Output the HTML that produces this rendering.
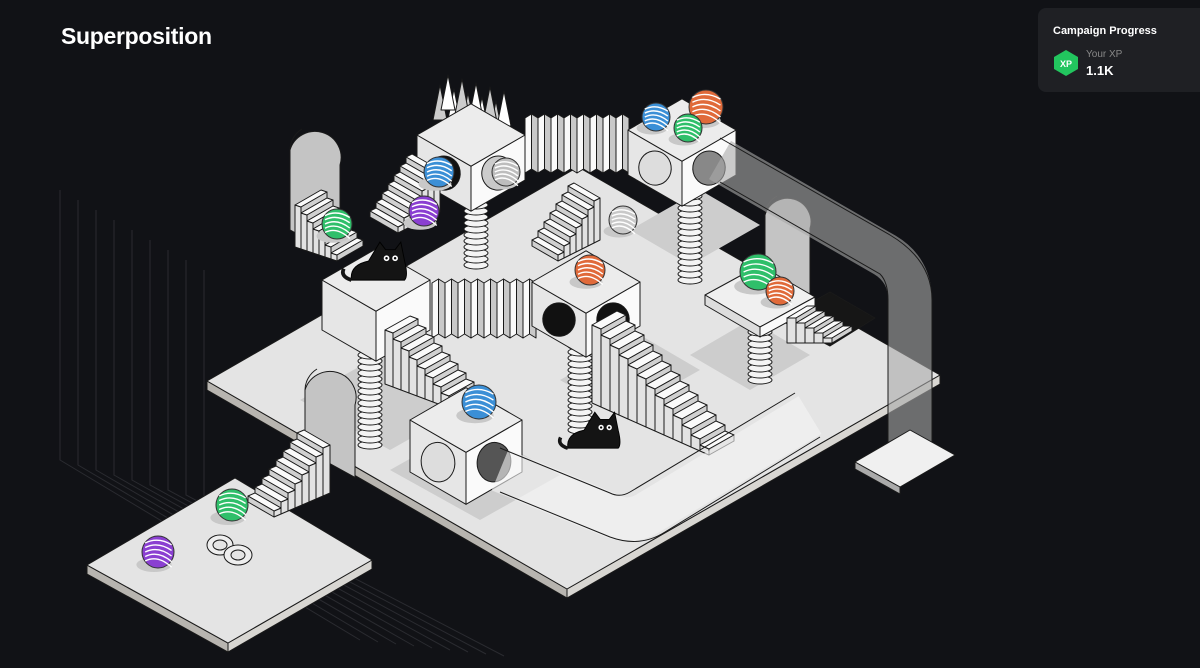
<!DOCTYPE html>
<html><head><meta charset="utf-8"><style>
html,body{margin:0;padding:0;background:#111216;width:1200px;height:668px;overflow:hidden;font-family:"Liberation Sans",sans-serif}
#t{position:absolute;left:61px;top:23px;color:#fff;font-size:23px;font-weight:bold;letter-spacing:-0.3px}
#card{position:absolute;left:1038px;top:8px;width:170px;height:84px;background:#1f2024;border-radius:8px}
#card .h{position:absolute;left:15px;top:17px;color:#fff;font-size:11px;font-weight:bold}
#card .y{position:absolute;left:48px;top:41px;color:#888;font-size:10px}
#card .v{position:absolute;left:48px;top:55px;color:#fff;font-size:13px;font-weight:bold}
svg{position:absolute;left:0;top:0}
</style></head><body>
<svg id="s" width="1200" height="668" viewBox="0 0 1200 668"></svg>
<div id="t">Superposition</div>
<div id="card"><div class="h">Campaign Progress</div>
<svg width="26" height="28" style="left:15px;top:41px" viewBox="0 0 26 28"><polygon points="13,1 25,8 25,20 13,27 1,20 1,8" fill="#22c55e"/><text x="13" y="18" fill="#fff" font-size="9" font-weight="bold" text-anchor="middle" font-family="Liberation Sans">XP</text></svg>
<div class="y">Your XP</div><div class="v">1.1K</div></div>
<script>
const s=document.getElementById('s');let o='';
const K='#1a1a1a';
function P(p,f,st){o+=`<polygon points="${p.map(a=>a.join(',')).join(' ')}" fill="${f}" stroke="${st||K}" stroke-width="1" stroke-linejoin="round"/>`;}
function E(x,y,rx,ry,f,st,rot){o+=`<ellipse cx="${x}" cy="${y}" rx="${rx}" ry="${ry}" fill="${f}" stroke="${st||K}" stroke-width="1" ${rot?`transform="rotate(${rot} ${x} ${y})"`:''}/>`;}
for(let i=0;i<9;i++){let x=60+i*18,y=190+i*10;o+=`<polyline points="${x},${y} ${x},${460+i*5} ${x+300},${640+i*2}" fill="none" stroke="#2a2b30" stroke-width="1"/>`;}
function plat(l,t,r,b,th,top,side){P([l,[l[0],l[1]+th],[b[0],b[1]+th],b],side);P([b,[b[0],b[1]+th],[r[0],r[1]+th],r],'#d8d6d2');P([l,t,r,b],top);}
plat([207,381],[578,167],[940,375],[567,589],9,'#e4e4e4','#b8b5b0');
P([[780,320],[830,292],[875,318],[830,346]],'#161616');
o+=`<polygon points="300,400 380,355 470,405 390,450" fill="#cdcdcd"/><polygon points="560,380 640,335 700,370 620,415" fill="#cdcdcd"/><polygon points="690,355 750,320 810,355 750,390" fill="#cdcdcd"/><polygon points="630,230 700,190 760,225 690,265" fill="#cdcdcd"/><polygon points="390,470 470,425 560,475 480,520" fill="#cdcdcd"/>`;
plat([87,565],[235,478],[372,560],[228,643],9,'#e4e4e4','#b8b5b0');
function cube(cx,cy,w,H,holes){let h=w*0.577;let T=[cx,cy-h],R=[cx+w,cy],B=[cx,cy+h],Lf=[cx-w,cy];
P([Lf,B,[B[0],B[1]+H],[Lf[0],Lf[1]+H]],'#e6e6e6');P([B,R,[R[0],R[1]+H],[B[0],B[1]+H]],'#fafafa');P([T,R,B,Lf],'#ececec');
if(holes){E(cx-w/2,cy+h/2+H/2,w*0.3,H*0.38,holes[0]||'#ddd',K,-8);E(cx+w/2,cy+h/2+H/2,w*0.3,H*0.38,holes[1]||'#111',K,8);}}
function spring(x,y1,y2,r){for(let y=y2;y>=y1;y-=6)E(x,y,r,4,'#f4f4f4');}
function stairs(x,y,n,dx,dy,wx,wy,rh){let rx=dx,ry=dy-rh;
for(let i=0;i<n;i++){let a=[x+i*dx,y+i*dy];let b=[a[0]+wx,a[1]+wy];let c=[b[0]+rx,b[1]+ry],d=[a[0]+rx,a[1]+ry];
let D=(n-i)*rh;
P([a,d,[d[0],d[1]+D],[a[0],a[1]+D]],'#e2e2e2');
P([a,b,c,d],'#fafafa');P([d,c,[c[0],c[1]+rh],[d[0],d[1]+rh]],'#d0d0d0');}}
function arch(x,y,w,hh,d){o+=`<path d="M${x} ${y+hh} L${x} ${y} A${w/2} ${w/2} 0 0 1 ${x+w} ${y+w*0.3} L${x+w} ${y+hh+w*0.55} Z" fill="#c4c4c4" stroke="${K}"/>`;o+=`<path d="M${x} ${y+hh} L${x} ${y} A${w/2} ${w/2} 0 0 1 ${x+12} ${y-w*0.42}" fill="none" stroke="${K}"/>`;}
function acc(x,y,n,w,H,sl){for(let i=0;i<n;i++){let a=x+i*w;P([[a,y],[a+w/2,y-4],[a+w/2,y-4+H],[a,y+H]],'#fafafa');P([[a+w/2,y-4],[a+w,y],[a+w,y+H],[a+w/2,y-4+H]],'#c9c9c9');}}
function ball(x,y,r,c){E(x-4,y+r*0.8,r*1.1,r*0.45,'#c8c8c8','none');o+=`<g><circle cx="${x}" cy="${y}" r="${r}" fill="${c}" stroke="#333"/>`;for(let k=-2;k<=2;k++)o+=`<path d="M${x-r*0.8} ${y+k*r*0.28} Q${x} ${y-r*0.4+k*r*0.28} ${x+r*0.85} ${y+k*r*0.35+4}" fill="none" stroke="#fff" stroke-width="1.4"/>`;o+='</g>';}
function cat(x,y,sc){o+=`<g transform="translate(${x} ${y}) scale(${sc})"><path d="M-28 18 Q-30 2 -10 -2 L2 -22 L8 -14 L18 -14 L24 -22 L28 -2 Q32 14 28 18 Z" fill="#141414" stroke="#000"/><path d="M-28 18 Q-40 14 -36 6" fill="none" stroke="#141414" stroke-width="4"/><circle cx="9" cy="-5" r="3" fill="#fff"/><circle cx="18" cy="-5" r="3" fill="#fff"/><circle cx="9" cy="-5" r="1.3"/><circle cx="18" cy="-5" r="1.3"/></g>`;}
arch(290,150,50,80,0);
stairs(295,205,7,6,8,26,-15,6);
spring(690,195,280,12);
spring(476,190,265,12);
stairs(600,198,7,-6,9,-26,-15,6);
acc(525,118,8,13,55,0);
cube(682,130,54,45,['#ddd','#888']);
for(let i=0;i<10;i++){let sx=440+(i%5)*14+(i>4?8:0),sy=120-(i>4?10:0)+(i%5)*4;P([[sx-7,sy],[sx,sy-35],[sx+7,sy]],i%2?'#fff':'#ccc');}
cube(471,135,54,45,['#111','#ccc']);
stairs(440,170,7,-6,9,-28,-16,6);
spring(370,350,445,12);
spring(580,340,430,12);
arch(765,215,45,65,0);
spring(760,320,380,12);
P([[705,295],[760,265],[815,297],[760,327]],'#f0f0f0');P([[705,295],[760,327],[760,337],[705,305]],'#ddd');P([[760,327],[815,297],[815,307],[760,337]],'#fafafa');
stairs(787,318,5,9,5,20,-12,5);
o+=`<path d="M720 160 L885 255 Q910 270 910 300 L910 460" fill="none" stroke="rgba(170,170,170,0.6)" stroke-width="44"/><path d="M720 138 L890 235 Q932 260 932 300 L932 460 M720 182 L880 274 Q888 282 888 300 L888 460" fill="none" stroke="${K}" stroke-width="1"/>`;
P([[855,462],[910,430],[955,455],[900,487]],'#f0f0f0');P([[855,462],[900,487],[900,494],[855,469]],'#aaa');
cube(376,280,54,50);
acc(432,283,8,13,55,0);
cube(586,282,54,44,['#111','#111']);
stairs(385,330,9,8,9,25,-14,6);
stairs(592,325,13,9,10,25,-14,6);
arch(305,390,50,60,0);
stairs(330,445,8,-7,9,-26,-15,6);
cube(466,420,56,52,['#ddd','#555']);
o+=`<path d="M500 470 L610 515 Q630 525 650 512 L810 415" fill="none" stroke="rgba(245,245,245,0.6)" stroke-width="44"/><path d="M500 448 L610 493 Q620 498 630 492 L795 393 M500 492 L610 537 Q640 548 665 532 L820 437" fill="none" stroke="${K}"/>`;
ball(656,117,14,'#3b8fd6');ball(706,107,17,'#e06a3a');ball(688,128,14,'#2fbf6a');
ball(439,172,15,'#3b8fd6');ball(506,172,14,'#bdbdbd');ball(424,211,15,'#8a3fd1');
ball(337,224,15,'#2fbf6a');ball(623,220,14,'#c9c9c9');ball(590,270,15,'#e06a3a');
ball(758,272,18,'#2fbf6a');ball(780,291,14,'#e06a3a');ball(479,402,17,'#3b8fd6');
ball(232,505,16,'#2fbf6a');ball(158,552,16,'#8a3fd1');
E(220,545,13,10,'#eee');E(220,545,7,5,'#e4e4e4');E(238,555,14,10,'#eee');E(238,555,7,5,'#e4e4e4');
cat(378,263,0.95);cat(593,432,0.9);
s.innerHTML=o;
</script>
</body></html>
